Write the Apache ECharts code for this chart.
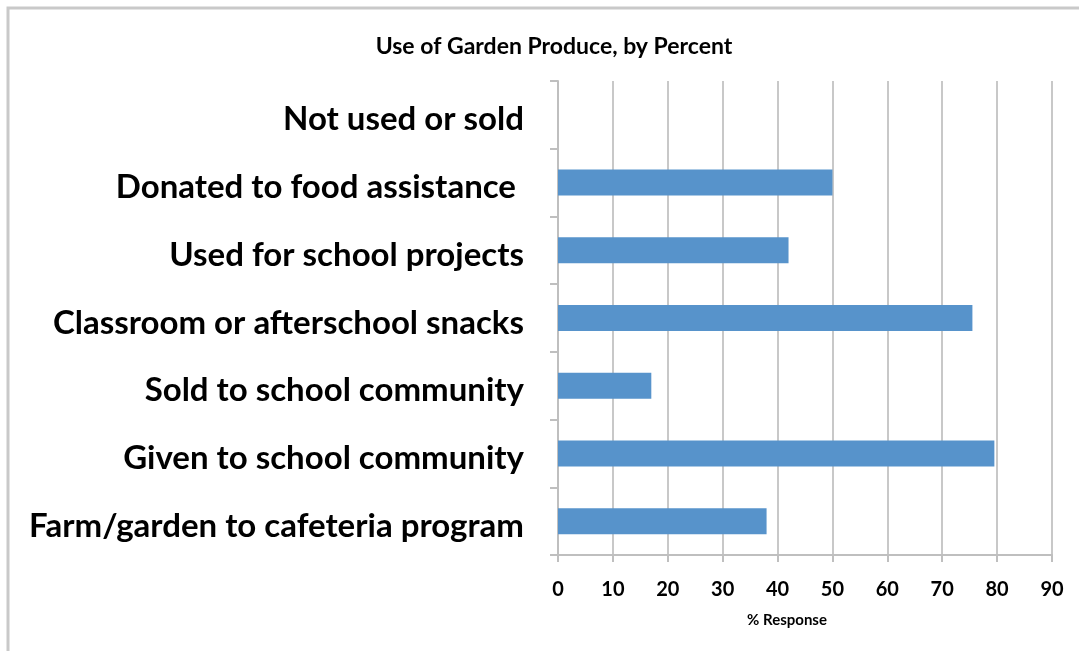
<!DOCTYPE html>
<html>
<head>
<meta charset="utf-8">
<script src="https://cdn.jsdelivr.net/npm/echarts@6/dist/echarts.min.js"></script>
<style>
  html, body { margin: 0; padding: 0; background: #fff; }
  #chart { width: 1079px; height: 651px; }
</style>
</head>
<body>
<div id="chart"></div>
<script>
// categories, top to bottom
const categories = [
  'Not used or sold',
  'Donated to food assistance ',
  'Used for school projects',
  'Classroom or afterschool snacks',
  'Sold to school community',
  'Given to school community',
  'Farm/garden to cafeteria program'
];
// % response
const responses = [0, 50, 42, 75.5, 17, 79.5, 38];
const xTicks = [0, 10, 20, 30, 40, 50, 60, 70, 80, 90];

const font = 'Lato, "Open Sans", sans-serif';
const chart = echarts.init(document.getElementById('chart'));

chart.setOption({
  animation: false,
  backgroundColor: '#fff',
  graphic: [{
    type: 'rect',
    shape: { x: 8, y: 8, width: 1100, height: 700 },
    style: { fill: 'none', stroke: '#c9c9c9', lineWidth: 3 },
    silent: true
  }],
  title: {
    text: 'Use of Garden Produce, by Percent',
    left: 549,
    textAlign: 'center',
    top: 30,
    textStyle: { fontFamily: font, fontWeight: 'bold', fontSize: 23, color: '#000' }
  },
  grid: { left: 558, right: 27, top: 81, bottom: 96, containLabel: false },
  xAxis: {
    type: 'value',
    min: xTicks[0],
    max: xTicks[xTicks.length - 1],
    interval: 10,
    name: '% Response',
    nameLocation: 'middle',
    nameGap: 58,
    nameTextStyle: {
      fontFamily: font, fontWeight: 'bold', fontSize: 15, color: '#000',
      padding: [0, 36, 0, 0]
    },
    axisLine: { show: true, lineStyle: { color: '#bfbfbf', width: 2 } },
    axisTick: { show: true, length: 7, lineStyle: { color: '#bfbfbf', width: 2 } },
    axisLabel: {
      margin: 25, fontFamily: font, fontWeight: 'bold', fontSize: 20, color: '#000'
    },
    splitLine: { show: true, lineStyle: { color: '#c8c8c8', width: 2 } }
  },
  yAxis: {
    type: 'category',
    inverse: true,
    data: categories,
    axisLine: { show: true, lineStyle: { color: '#bfbfbf', width: 2 } },
    axisTick: { show: true, length: 8, alignWithLabel: false, lineStyle: { color: '#bfbfbf', width: 2 } },
    axisLabel: {
      margin: 34,
      formatter: function (v) { return '{l|' + v + '}'; },
      rich: {
        l: {
          fontFamily: font, fontWeight: 'bold', fontSize: 33, color: '#000',
          padding: [10, 0, 0, 0]
        }
      }
    }
  },
  series: [{
    type: 'bar',
    data: responses,
    barWidth: 26,
    itemStyle: { color: '#5793cb' }
  }]
});
</script>
</body>
</html>
